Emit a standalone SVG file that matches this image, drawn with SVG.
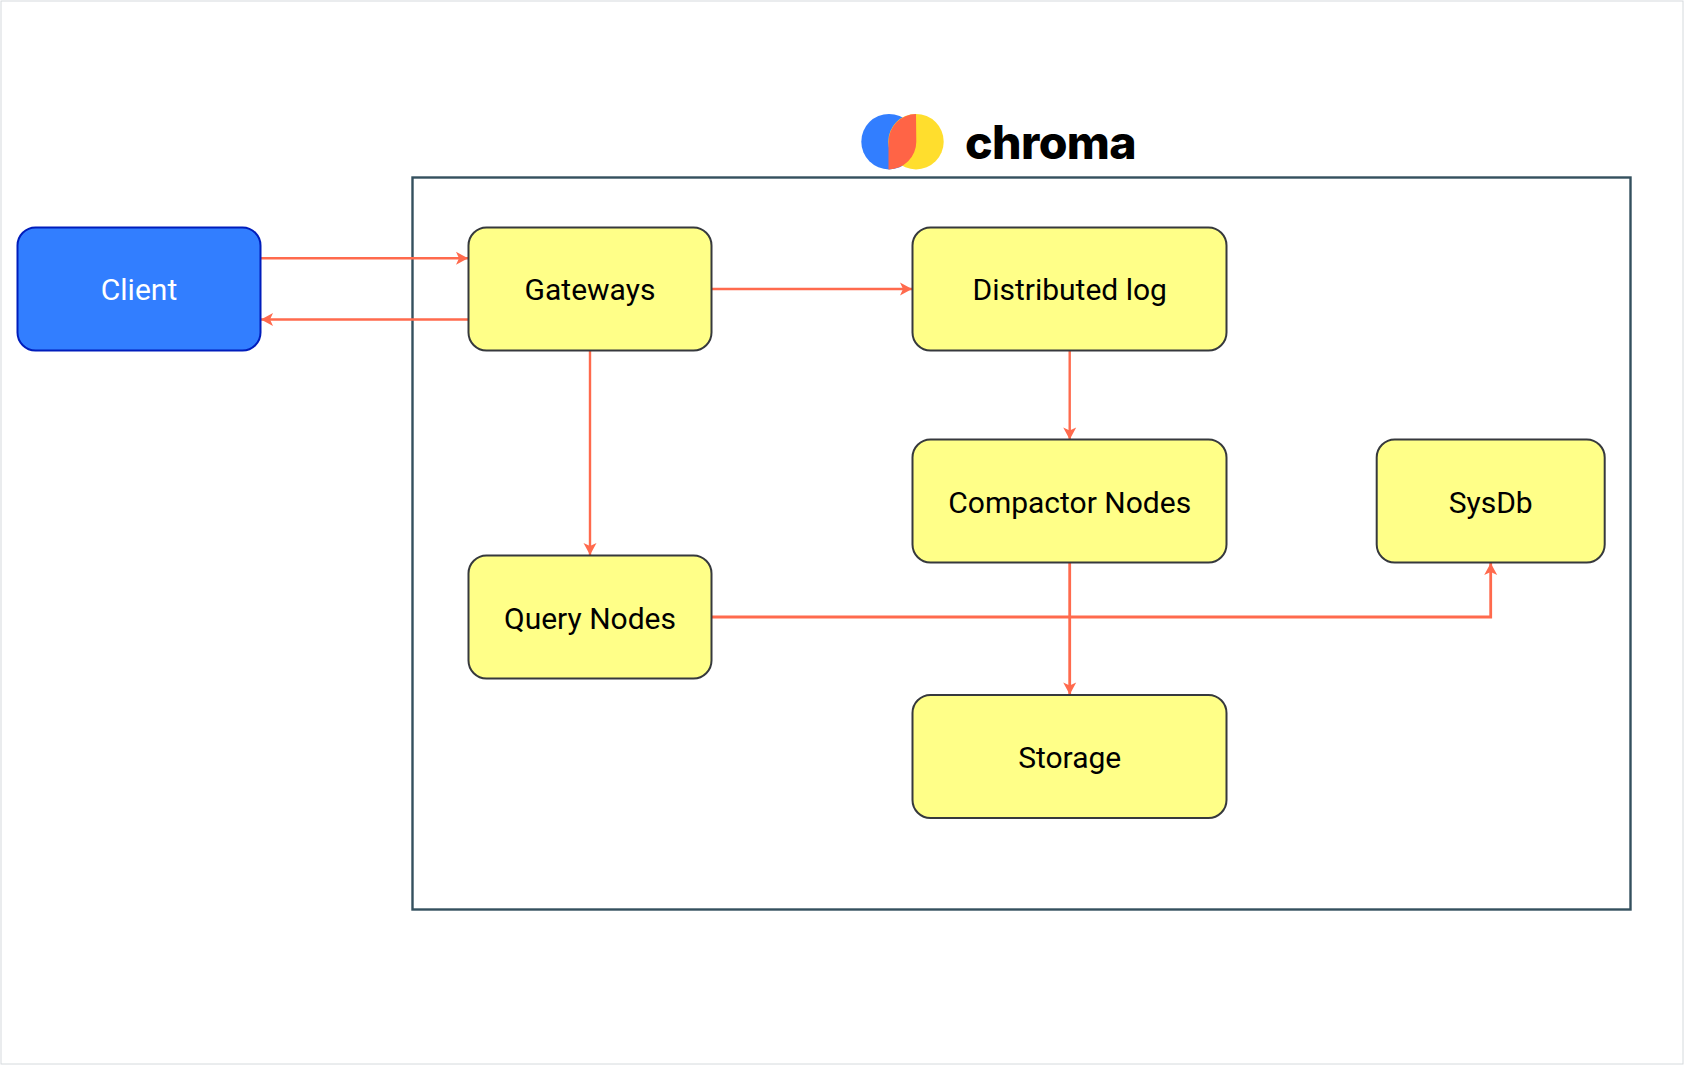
<svg xmlns="http://www.w3.org/2000/svg" width="1684" height="1065" viewBox="0 0 1684 1065">
<style>
.n{fill:#ffff88;stroke:#36393d;stroke-width:2}
.t{font-family:Roboto,"Liberation Sans",sans-serif;font-size:30px;text-anchor:middle;fill:#000}
.c{fill:none;stroke:#ff6a4d;stroke-width:2.4}
.cb{fill:none;stroke:#ff6a4d;stroke-width:2.8}
</style>
<defs>
<marker id="a" markerUnits="userSpaceOnUse" markerWidth="14" markerHeight="14" refX="12.500" refY="7" orient="auto"><path d="M0.500 0.500L12.500 7L0.500 13.500L3.500 7Z" fill="#ff6a4d"/></marker>
</defs>
<rect x="1" y="1" width="1682" height="1063" fill="#fff" stroke="#d5dadd" stroke-width="1"/>
<g id="logo">
<circle cx="889" cy="141.700" r="27.700" fill="#327eff"/>
<circle cx="916" cy="141.700" r="27.700" fill="#ffde2d"/>
<path d="M916 114A27.700 27.700 0 0 0 888.500 141.700V169.400A27.700 27.700 0 0 0 916.300 141.700Z" fill="#ff6446"/>
<text x="965" y="159" font-family="Inter,'Liberation Sans',sans-serif" font-weight="800" font-size="46.500" letter-spacing="-0.6" fill="#000">chroma</text>
</g>
<rect id="container" x="412.500" y="177.500" width="1218" height="732" fill="none" stroke="#34505e" stroke-width="2.400"/>
<g id="connectors">
<path class="c" marker-end="url(#a)" d="M261 258.300H468"/>
<path class="c" marker-end="url(#a)" d="M468 319.500H261"/>
<path class="c" marker-end="url(#a)" d="M712 289H912"/>
<path class="c" marker-end="url(#a)" d="M590 351V555"/>
<path class="c" marker-end="url(#a)" d="M1069.700 351V439.500"/>
<path class="cb" marker-end="url(#a)" d="M1069.700 563V694.500"/>
<path class="cb" marker-end="url(#a)" d="M712 617H1490.700V563"/>
</g>
<g id="client"><rect x="17.500" y="227.500" width="243" height="123" rx="18" fill="#327eff" stroke="#001dbc" stroke-width="2"/><text class="t" x="139" y="300" style="fill:#fff">Client</text></g>
<g id="gateways"><rect class="n" x="468.500" y="227.500" width="243" height="123" rx="18"/><text class="t" x="590" y="300">Gateways</text></g>
<g id="distributed-log"><rect class="n" x="912.500" y="227.500" width="314" height="123" rx="18"/><text class="t" x="1069.700" y="300">Distributed log</text></g>
<g id="compactor-nodes"><rect class="n" x="912.500" y="439.500" width="314" height="123" rx="18"/><text class="t" x="1069.700" y="513">Compactor Nodes</text></g>
<g id="sysdb"><rect class="n" x="1376.700" y="439.500" width="228" height="123" rx="18"/><text class="t" x="1490.700" y="513">SysDb</text></g>
<g id="query-nodes"><rect class="n" x="468.500" y="555.500" width="243" height="123" rx="18"/><text class="t" x="590" y="629">Query Nodes</text></g>
<g id="storage"><rect class="n" x="912.500" y="695" width="314" height="123" rx="18"/><text class="t" x="1069.700" y="768">Storage</text></g>
</svg>
